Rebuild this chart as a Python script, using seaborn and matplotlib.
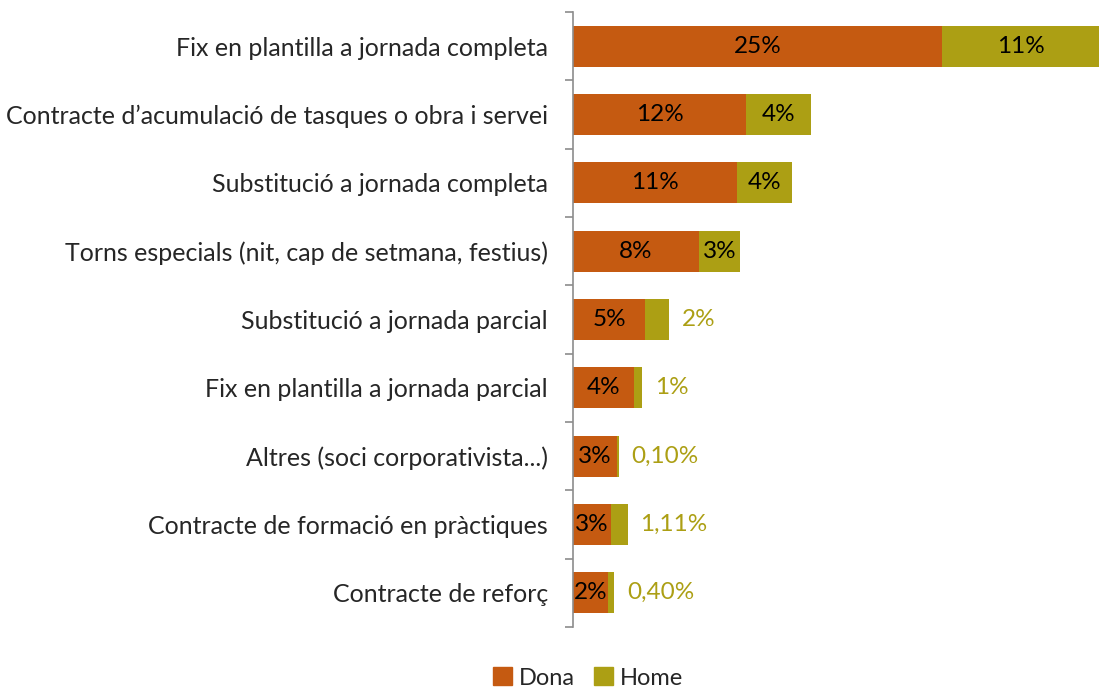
import pandas as pd
import seaborn as sns
import numpy as np
import matplotlib.pyplot as plt
from matplotlib.patches import Patch

categories = [
    "Fix en plantilla a jornada completa",
    "Contracte d\u2019acumulaci\u00f3 de tasques o obra i servei",
    "Substituci\u00f3 a jornada completa",
    "Torns especials (nit, cap de setmana, festius)",
    "Substituci\u00f3 a jornada parcial",
    "Fix en plantilla a jornada parcial",
    "Altres (soci corporativista...)",
    "Contracte de formaci\u00f3 en pr\u00e0ctiques",
    "Contracte de refor\u00e7",
]
dona = [25.0, 11.7, 11.1, 8.5, 4.9, 4.1, 3.0, 2.6, 2.4]
home = [10.6, 4.4, 3.7, 2.8, 1.6, 0.6, 0.10, 1.11, 0.40]
dona_labels = ["25%", "12%", "11%", "8%", "5%", "4%", "3%", "3%", "2%"]
home_labels = ["11%", "4%", "4%", "3%", "2%", "1%", "0,10%", "1,11%", "0,40%"]

c_dona = "#C55A11"
c_home = "#AC9F14"

df = pd.DataFrame({"cat": categories, "Dona": dona, "Home": home})
df["total"] = df["Dona"] + df["Home"]

sns.set_style("white")
plt.rcParams["font.family"] = ["Lato", "DejaVu Sans"]

fig = plt.figure(figsize=(10.99, 6.89), dpi=100)
ax = fig.add_axes([0.5214, 0.09, 0.4786, 0.8926])

sns.barplot(data=df, x="total", y="cat", color=c_home, width=0.6,
            saturation=1, ax=ax, edgecolor="none")
sns.barplot(data=df, x="Dona", y="cat", color=c_dona, width=0.6,
            saturation=1, ax=ax, edgecolor="none")

fs = 18
fv = 17.5
for i, row in df.iterrows():
    ax.text(row["Dona"] / 2, i, dona_labels[i], ha="center", va="center",
            fontsize=fv, color="black")
    if row["Home"] >= 2.5:
        ax.text(row["Dona"] + row["Home"] / 2, i, home_labels[i],
                ha="center", va="center", fontsize=fv, color="black")
    else:
        ax.annotate(home_labels[i], (row["total"], i), xytext=(9, 0),
                    textcoords="offset points", ha="left", va="center",
                    fontsize=fv, color=c_home)

ax.set_xlim(0, df["total"].max())
ax.set_ylim(len(categories) - 0.5, -0.5)
ax.set_xlabel("")
ax.set_ylabel("")
ax.set_xticks([])
ax.tick_params(axis="y", which="major", length=0, labelsize=fs, pad=18)
ax.set_yticks(np.arange(len(categories) + 1) - 0.5, minor=True)
ax.tick_params(axis="y", which="minor", left=True, length=6,
               color="#8c8c8c", width=1.2)
for s in ["top", "right", "bottom"]:
    ax.spines[s].set_visible(False)
ax.spines["left"].set_color("#8c8c8c")
ax.spines["left"].set_linewidth(1.2)

handles = [Patch(color=c_dona, label="Dona"), Patch(color=c_home, label="Home")]
fig.legend(handles=handles, loc="center", bbox_to_anchor=(0.535, 0.016), ncol=2,
           frameon=False, fontsize=17, handlelength=0.8, handleheight=0.8,
           handletextpad=0.3, columnspacing=0.8)

fig.savefig("out.png", dpi=100)
